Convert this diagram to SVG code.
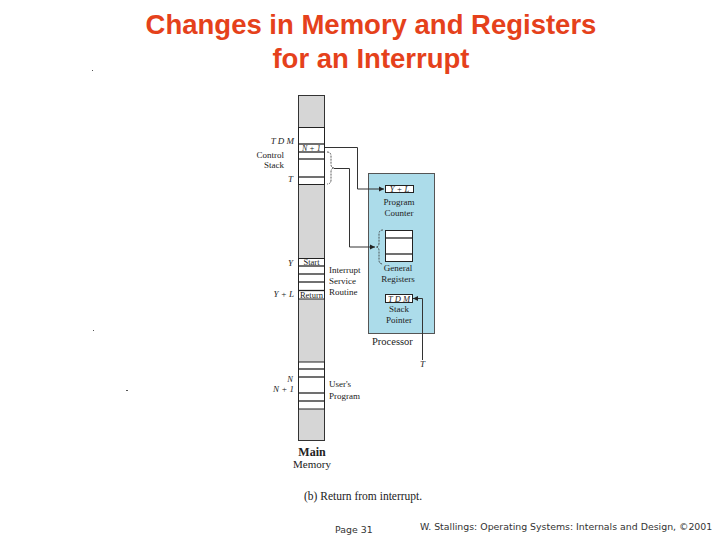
<svg xmlns="http://www.w3.org/2000/svg" width="720" height="540" viewBox="0 0 720 540">
<defs>
<marker id="ah" markerWidth="6" markerHeight="6" refX="5" refY="3" orient="auto" markerUnits="userSpaceOnUse">
<path d="M0,0.5 L5,3 L0,5.5 Z" fill="#222"/>
</marker>
</defs>
<style>
.t{font-family:"Liberation Sans",Arial,sans-serif;font-weight:bold;font-size:27.5px;fill:#e5411b;text-anchor:middle}
.s{font-family:"Liberation Serif","Times New Roman",serif;font-size:9px;fill:#222}
.i{font-style:italic}
.e{text-anchor:end}
.m{text-anchor:middle}
.f{font-family:"DejaVu Sans",Verdana,sans-serif;font-size:9.4px;fill:#333}
.w{fill:#fff;stroke:#222;stroke-width:1}
.ln{stroke:#222;stroke-width:1.3}
.c{fill:none;stroke:#333;stroke-width:1}
.br{fill:none;stroke:#333;stroke-width:0.8;stroke-dasharray:2,1}
</style>
<rect width="720" height="540" fill="#fff"/>
<text class="t" x="371" y="34">Changes in Memory and Registers</text>
<text class="t" x="371" y="68">for an Interrupt</text>

<g id="memory">
<rect x="298.5" y="95.5" width="26" height="345" fill="#d6d6d6" stroke="#333"/>
<rect class="w" x="298.5" y="127.5" width="26" height="57"/>
<line class="ln" x1="298.5" y1="144" x2="324.5" y2="144"/>
<line class="ln" x1="298.5" y1="152" x2="324.5" y2="152"/>
<line class="ln" x1="298.5" y1="159" x2="324.5" y2="159"/>
<line class="ln" x1="298.5" y1="177" x2="324.5" y2="177"/>
<text class="s i" x="302" y="150.8" style="font-size:8px">N + 1</text>
<rect class="w" x="298.5" y="258.5" width="26" height="40.5"/>
<line class="ln" x1="298.5" y1="266" x2="324.5" y2="266"/>
<line class="ln" x1="298.5" y1="274" x2="324.5" y2="274"/>
<line class="ln" x1="298.5" y1="282" x2="324.5" y2="282"/>
<line class="ln" x1="298.5" y1="290.5" x2="324.5" y2="290.5"/>
<text class="s m" x="311.5" y="265" style="font-size:8.5px">Start</text>
<text class="s m" x="311.5" y="297.6" style="font-size:8.5px">Return</text>
<rect class="w" x="298.5" y="362" width="26" height="47"/>
<line class="ln" x1="298.5" y1="369" x2="324.5" y2="369"/>
<line class="ln" x1="298.5" y1="377" x2="324.5" y2="377"/>
<line class="ln" x1="298.5" y1="393" x2="324.5" y2="393"/>
<line class="ln" x1="298.5" y1="401" x2="324.5" y2="401"/>
<text class="s i e" x="294" y="144">T D M</text>
<text class="s e" x="284" y="158">Control</text>
<text class="s e" x="284" y="168">Stack</text>
<text class="s i e" x="293" y="182">T</text>
<text class="s i e" x="293" y="266">Y</text>
<text class="s i e" x="294" y="297">Y + L</text>
<text class="s i e" x="293" y="382" style="font-size:8.5px">N</text>
<text class="s i e" x="294" y="392">N + 1</text>
<text class="s" x="329" y="273">Interrupt</text>
<text class="s" x="329" y="284">Service</text>
<text class="s" x="329" y="295">Routine</text>
<text class="s" x="329" y="387">User's</text>
<text class="s" x="329" y="399">Program</text>
<path class="br" d="M327,152 q4,0 4,4 v8 q0,4 3,4 q-3,0 -3,4 v8 q0,4 -4,4"/>
<text class="s m" x="312" y="456" style="font-size:12px;font-weight:bold">Main</text>
<text class="s m" x="312" y="468" style="font-size:11px">Memory</text>
</g>

<g id="processor">
<rect x="368.5" y="173.5" width="66" height="160" fill="#acdcea" stroke="#555"/>
<rect class="w" x="385.5" y="185.5" width="28" height="7"/>
<text class="s i m" x="399.5" y="191.6" style="font-size:8.5px">Y + L</text>
<text class="s m" x="399" y="205" style="font-size:9px">Program</text>
<text class="s m" x="399" y="216" style="font-size:9px">Counter</text>
<rect class="w" x="385.5" y="230.5" width="27" height="31"/>
<line class="ln" x1="385.5" y1="238" x2="412.5" y2="238"/>
<line class="ln" x1="385.5" y1="254" x2="412.5" y2="254"/>
<path class="br" d="M383,230 q-4,0 -4,4 v9 q0,4 -3,4 q3,0 3,4 v9 q0,4 4,4"/>
<text class="s m" x="398" y="271" style="font-size:9px">General</text>
<text class="s m" x="398" y="282" style="font-size:9px">Registers</text>
<rect class="w" x="385.5" y="294.5" width="27" height="8"/>
<text class="s i m" x="399" y="301.5" style="font-size:8.5px">T D M</text>
<text class="s m" x="399" y="312" style="font-size:9px">Stack</text>
<text class="s m" x="399" y="323" style="font-size:9px">Pointer</text>
<text class="s" x="372" y="344.5" style="font-size:10.5px">Processor</text>
<text class="s i" x="420" y="367">T</text>
</g>

<g id="connectors">
<polyline class="c" points="325,147.5 357.5,147.5 357.5,189 384,189" marker-end="url(#ah)"/>
<polyline class="c" points="334,168.5 349.5,168.5 349.5,247 375,247" marker-end="url(#ah)"/>
<polyline class="c" points="422.5,360 422.5,298.5 413,298.5" marker-end="url(#ah)"/>
</g>

<text class="s" x="304" y="499.5" style="font-size:11.5px">(b)  Return from interrupt.</text>
<text class="f" x="335" y="533">Page 31</text>
<text class="f" x="420" y="530">W. Stallings: Operating Systems: Internals and Design, ©2001</text>
<rect x="92" y="70" width="1" height="1" fill="#555"/>
<rect x="93" y="330" width="1" height="1" fill="#555"/>
<rect x="126" y="390" width="2" height="1" fill="#555"/>
</svg>
